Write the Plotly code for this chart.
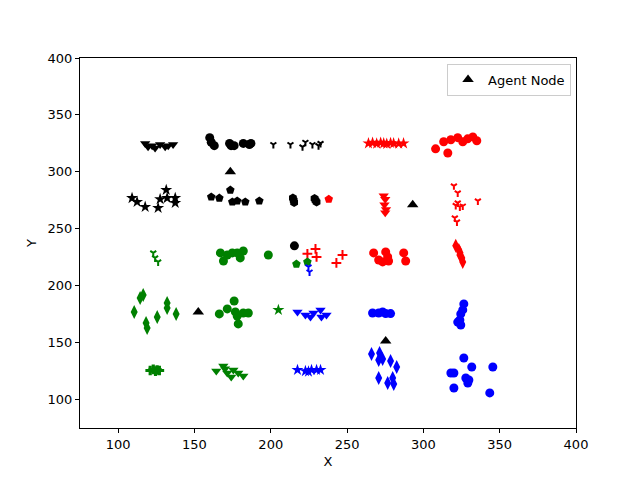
import plotly.graph_objects as go

# agent nodes
agent_x = [173.5, 293, 152.5, 275.3]
agent_y = [300, 271, 177, 151.4]

# black markers
blk_tri_x = [117.7, 119.6, 122.3, 124.2, 127.5, 130.8, 132.8, 136]
blk_tri_y = [325, 322, 323, 321, 324, 322, 323, 324]
blk_circ_x = [160, 161, 163, 173, 174, 176, 182, 186, 187, 215.5]
blk_circ_y = [330, 326, 323, 325, 323, 323, 325, 324, 325, 235]
blk_y_x = [201.7, 212.9, 220.8, 222.7, 227.3, 231.3, 232.6]
blk_y_y = [324, 324, 322, 326, 324, 323, 325]
blk_star_x = [109.1, 112.4, 117.7, 126.2, 127.5, 131.5, 132.1, 137.4, 137.4]
blk_star_y = [277, 273.6, 269.2, 268.3, 276, 284.1, 277, 277, 272.7]
blk_pent_x = [161, 166.3, 173.5, 174.8, 178, 183.3, 192.5]
blk_pent_y = [278, 277, 284, 273.6, 274.5, 273.6, 274.5]
blk_hex_x = [214.5, 215, 215.3, 228.7, 229.3, 230]
blk_hex_y = [277, 275, 273, 276.5, 275, 273.5]

# red markers
red_star_x = [264, 266.7, 269.4, 272, 274, 276, 278.5, 280.5, 283.8, 287]
red_star_y = [325, 325.5, 324.8, 325.6, 325, 324.6, 325.4, 325, 324.8, 325]
red_circ_x = [308, 313.3, 316, 318, 322.5, 325.8, 329, 332.4, 335,
              267.4, 270.7, 273.3, 275.3, 276.6, 277.2, 287.1, 288.4]
red_circ_y = [320.2, 326.4, 316.6, 328.2, 330, 326.4, 329, 330.7, 327.3,
              228.8, 222.6, 220.9, 229.7, 225.3, 221.7, 228.8, 221.7]
red_pent_x = [238]
red_pent_y = [276]
red_tri_x = [274, 275, 274.5, 275.5, 275]
red_tri_y = [278.9, 276, 271, 267, 264]
red_y_x = [320, 322.5, 322.5, 323.9, 325.8, 321.2, 335.7, 320.6, 322]
red_y_y = [287.7, 281.5, 272.7, 269.2, 270, 270.5, 274.5, 259.5, 256]
red_plus_x = [224, 229.3, 230, 243, 247]
red_plus_y = [228, 232.3, 225.3, 220, 227]
red_dia_x = [321.2, 323.2, 323.9, 325.2, 325.8, 324]
red_dia_y = [235, 231.4, 227, 224.4, 220.9, 229]

# green markers
grn_y_x = [123, 124.2, 126.2]
grn_y_y = [228.8, 224.4, 220.9]
grn_circ_x = [167, 169, 171.5, 174.8, 178, 180, 182, 198.4,
              166.3, 171.5, 176, 176.8, 178, 178.7, 182, 185.3]
grn_circ_y = [228.8, 221.7, 227, 228.8, 228.8, 224.4, 230.5, 227,
              175.2, 179.6, 186.6, 177, 173.4, 166.4, 176, 176]
grn_pent_x = [216.8, 224]
grn_pent_y = [219, 220.8]
grn_dia_x = [110.5, 114.4, 116.4, 118.3, 119, 125.6, 132.1, 132.1, 138]
grn_dia_y = [177, 189.2, 191.9, 167.3, 162.9, 172.5, 184.8, 180.5, 175.2]
grn_star_x = [205]
grn_star_y = [178.7]
grn_plus_x = [121, 123, 124.5, 125.5, 127]
grn_plus_y = [125.5, 126.5, 125, 126, 125.5]
grn_tri_x = [164.3, 168.9, 171.5, 174.1, 175.5, 178.7, 182, 170]
grn_tri_y = [125, 129.5, 123.3, 119.8, 126, 123.3, 120.7, 127]

# blue markers
blu_y_x = [224.7, 225.4]
blu_y_y = [216.5, 212]
blu_tri_x = [217.5, 222.7, 226, 228, 232.6, 233.2, 236.5]
blu_tri_y = [177, 174.3, 172.5, 176, 178.7, 172.5, 174.3]
blu_circ_x = [266.7, 270.7, 273.3, 275.3, 278.5,
              326.5, 325.8, 324.5, 323.9, 324.5, 322.5,
              318, 320, 320, 326.5, 327.8, 329.1, 329.8, 331.7, 343.5, 345.5]
blu_circ_y = [176, 176, 177, 175.5, 175.5,
              184, 178.7, 175.2, 169.9, 165.5, 168,
              123.3, 123.3, 110.1, 136.5, 118.9, 114.5, 117.2, 128.6, 105.8, 128.6]
blu_star_x = [217.5, 222.7, 224.7, 226.7, 230, 232.6]
blu_star_y = [126, 125, 124.5, 126, 126, 126]
blu_dia_x = [266, 271.3, 270.7, 273.3, 278.5, 282.5, 270.7, 276.6, 279.9, 280.6]
blu_dia_y = [140, 140.9, 134.8, 135.6, 133.9, 128.6, 118.9, 114.5, 118.9, 113.7]

RED, GREEN, BLUE, BLACK = "#ff0000", "#008000", "#0000ff", "#000000"

groups = [
    (blk_tri_x, blk_tri_y, BLACK, "triangle-down", 9),
    (blk_circ_x, blk_circ_y, BLACK, "circle", 9),
    (blk_y_x, blk_y_y, BLACK, "y-down", 5),
    (blk_star_x, blk_star_y, BLACK, "star", 9),
    (blk_pent_x, blk_pent_y, BLACK, "pentagon", 9),
    (blk_hex_x, blk_hex_y, BLACK, "hexagon", 9),
    (red_star_x, red_star_y, RED, "star", 9),
    (red_circ_x, red_circ_y, RED, "circle", 9),
    (red_pent_x, red_pent_y, RED, "pentagon", 9),
    (red_tri_x, red_tri_y, RED, "triangle-down", 9),
    (red_y_x, red_y_y, RED, "y-down", 5),
    (red_plus_x, red_plus_y, RED, "cross-thin", 7),
    (red_dia_x, red_dia_y, RED, "diamond-tall", 10),
    (grn_y_x, grn_y_y, GREEN, "y-down", 5),
    (grn_circ_x, grn_circ_y, GREEN, "circle", 9),
    (grn_pent_x, grn_pent_y, GREEN, "pentagon", 9),
    (grn_dia_x, grn_dia_y, GREEN, "diamond-tall", 10),
    (grn_star_x, grn_star_y, GREEN, "star", 9),
    (grn_plus_x, grn_plus_y, GREEN, "cross", 8),
    (grn_tri_x, grn_tri_y, GREEN, "triangle-down", 9),
    (blu_y_x, blu_y_y, BLUE, "y-down", 5),
    (blu_tri_x, blu_tri_y, BLUE, "triangle-down", 9),
    (blu_circ_x, blu_circ_y, BLUE, "circle", 9),
    (blu_star_x, blu_star_y, BLUE, "star", 9),
    (blu_dia_x, blu_dia_y, BLUE, "diamond-tall", 10),
]

fig = go.Figure()
for xs, ys, col, sym, sz in groups:
    line_only = sym in ("y-down", "cross-thin")
    fig.add_trace(go.Scatter(
        x=xs, y=ys, mode="markers", showlegend=False, hoverinfo="skip",
        marker=dict(symbol=sym, size=sz, color=col,
                    line=dict(color=col, width=2 if line_only else 0))))

fig.add_trace(go.Scatter(
    x=agent_x, y=agent_y, mode="markers", name="Agent Node",
    marker=dict(symbol="triangle-up", size=10, color=BLACK, line=dict(width=0))))

axis_common = dict(showgrid=False, zeroline=False, showline=True, linecolor="black",
                   linewidth=1, mirror=True, ticks="outside", ticklen=4,
                   tickcolor="black", tickfont=dict(size=13, color="black"))
fig.update_xaxes(range=[75, 400], tickvals=[100, 150, 200, 250, 300, 350, 400],
                 title=dict(text="X", font=dict(size=13, color="black"), standoff=6),
                 **axis_common)
fig.update_yaxes(range=[75, 400], tickvals=[100, 150, 200, 250, 300, 350, 400],
                 title=dict(text="Y", font=dict(size=13, color="black"), standoff=8),
                 **axis_common)
# page body adds 8px offset, so margins are trimmed to put the axes where the reference has them
fig.update_layout(
    width=640, height=480,
    margin=dict(l=72, r=72, t=50, b=60),
    paper_bgcolor="white", plot_bgcolor="white",
    font=dict(family="DejaVu Sans", size=13, color="black"),
    legend=dict(x=0.99, y=0.985, xanchor="right", yanchor="top",
                bgcolor="white", bordercolor="#cccccc", borderwidth=1,
                font=dict(size=13), tracegroupgap=0),
)

fig.write_html("out.html")
